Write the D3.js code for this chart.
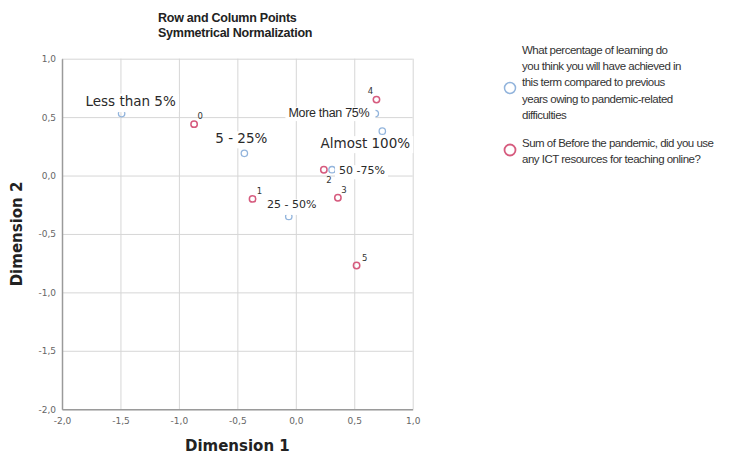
<!DOCTYPE html>
<html>
<head>
<meta charset="utf-8">
<script src="https://cdn.jsdelivr.net/npm/d3@7"></script>
<style>
  html, body { margin: 0; padding: 0; background: #fff; }
  svg { display: block; }
</style>
</head>
<body>
<svg id="chart" width="742" height="456"></svg>
<script>
// Row points: learning achieved this term
const rowCategories = ["Less than 5%", "5 - 25%", "25 - 50%", "50 -75%", "More than 75%", "Almost 100%"];
const rowDim1 = [-1.49, -0.44, -0.06, 0.31, 0.68, 0.74];
const rowDim2 = [0.53, 0.19, -0.35, 0.05, 0.53, 0.38];

// Column points: ICT resources used before the pandemic
const colCategories = ["0", "1", "2", "3", "4", "5"];
const colDim1 = [-0.87, -0.37, 0.24, 0.36, 0.69, 0.52];
const colDim2 = [0.44, -0.20, 0.05, -0.19, 0.65, -0.77];

const axisTicks = [-2.0, -1.5, -1.0, -0.5, 0.0, 0.5, 1.0];

const titleLines = ["Row and Column Points", "Symmetrical Normalization"];
const legendRowText = ["What percentage of learning do", "you think you will have achieved in",
  "this term compared to previous", "years owing to pandemic-related", "difficulties"];
const legendColText = ["Sum of Before the pandemic, did you use", "any ICT resources for teaching online?"];

// label placement for row points (offsets from the point, box padding l/t/r/b)
const rowLabelStyle = [
  { dx: 9, dy: -8, anchor: "middle", size: 13.5, font: "DejaVu Sans", ls: 0, pad: [3, -1, 3, 3.5] },
  { dx: -3, dy: -10, anchor: "middle", size: 13.5, font: "DejaVu Sans", ls: 0, pad: [3, -1, 3, 2] },
  { dx: 3, dy: -8, anchor: "middle", size: 11, font: "DejaVu Sans", ls: 0, pad: [3, -1, 3, 3.5] },
  { dx: 7, dy: 4.5, anchor: "start", size: 11, font: "DejaVu Sans", ls: 0, pad: [4, -1, 3, 2] },
  { dx: -6, dy: 3.5, anchor: "end", size: 12.5, font: "Liberation Sans", ls: -0.3, pad: [3, -1, 6, 1] },
  { dx: -17, dy: 17, anchor: "middle", size: 13.5, font: "DejaVu Sans", ls: 0, pad: [3, -1, 3, 2] }
];
const colLabelOffset = [[6, -5], [7, -5], [5, 13], [6, -5], [-6, -6], [8, -4]];

const BLUE = "#92b4dc";
const RED = "#d65b7e";

const svg = d3.select("#chart");

const x = d3.scaleLinear().domain([-2, 1]).range([62, 412.7]);
const y = d3.scaleLinear().domain([-2, 1]).range([409.2, 58.7]);

const fmt = d3.formatLocale({ decimal: ",", thousands: ".", grouping: [3], currency: ["", ""], minus: "-" }).format(".1f");

// grid
const grid = svg.append("g");
grid.append("g")
  .attr("transform", `translate(0,${y(-2)})`)
  .call(d3.axisBottom(x).tickValues(axisTicks).tickSize(-(y(-2) - y(1))).tickFormat(""))
  .call(g => g.select(".domain").remove())
  .call(g => g.selectAll("line").attr("stroke", "#d6d6d6").attr("stroke-width", 1));
grid.append("g")
  .attr("transform", `translate(${x(-2)},0)`)
  .call(d3.axisLeft(y).tickValues(axisTicks).tickSize(-(x(1) - x(-2))).tickFormat(""))
  .call(g => g.select(".domain").remove())
  .call(g => g.selectAll("line").attr("stroke", "#d6d6d6").attr("stroke-width", 1));

// axes
const xAxis = svg.append("g")
  .attr("transform", `translate(0,${y(-2)})`)
  .call(d3.axisBottom(x).tickValues(axisTicks).tickSize(0).tickPadding(8).tickFormat(fmt));
const yAxis = svg.append("g")
  .attr("transform", `translate(${x(-2)},0)`)
  .call(d3.axisLeft(y).tickValues(axisTicks).tickSize(0).tickPadding(6).tickFormat(fmt));
[xAxis, yAxis].forEach(a => {
  a.select(".domain").attr("stroke", "#9a9a9a").attr("stroke-width", 1.5);
  a.selectAll("text").attr("font-family", "DejaVu Sans").attr("font-size", 9).attr("fill", "#666");
});

// axis titles
svg.append("text")
  .attr("x", (x(-2) + x(1)) / 2).attr("y", 451)
  .attr("text-anchor", "middle")
  .attr("font-family", "DejaVu Sans").attr("font-weight", "bold").attr("font-size", 15)
  .attr("fill", "#222").text("Dimension 1");
svg.append("text")
  .attr("transform", `translate(22,${(y(-2) + y(1)) / 2}) rotate(-90)`)
  .attr("text-anchor", "middle")
  .attr("font-family", "DejaVu Sans").attr("font-weight", "bold").attr("font-size", 15)
  .attr("fill", "#222").text("Dimension 2");

// title
svg.selectAll(".title").data(titleLines).join("text")
  .attr("class", "title")
  .attr("x", 158).attr("y", (d, i) => 22 + i * 15)
  .attr("font-family", "Liberation Sans").attr("font-weight", "bold").attr("font-size", 12.5)
  .attr("letter-spacing", -0.25)
  .attr("fill", "#222").text(d => d);

// points
const rows = rowCategories.map((c, i) => ({ c, d1: rowDim1[i], d2: rowDim2[i], s: rowLabelStyle[i] }));
const cols = colCategories.map((c, i) => ({ c, d1: colDim1[i], d2: colDim2[i], o: colLabelOffset[i] }));

svg.append("g").selectAll("circle").data(rows).join("circle")
  .attr("cx", d => x(d.d1)).attr("cy", d => y(d.d2)).attr("r", 3.2)
  .attr("fill", "none").attr("stroke", BLUE).attr("stroke-width", 1.3);
svg.append("g").selectAll("circle").data(cols).join("circle")
  .attr("cx", d => x(d.d1)).attr("cy", d => y(d.d2)).attr("r", 3.2)
  .attr("fill", "none").attr("stroke", RED).attr("stroke-width", 1.5);

// row labels on white boxes
const rowLabels = svg.append("g").selectAll("g").data(rows).join("g");
rowLabels.each(function (d) {
  const g = d3.select(this);
  const t = g.append("text")
    .attr("x", x(d.d1) + d.s.dx).attr("y", y(d.d2) + d.s.dy)
    .attr("text-anchor", d.s.anchor)
    .attr("font-family", d.s.font).attr("font-size", d.s.size)
    .attr("letter-spacing", d.s.ls)
    .attr("fill", "#2a2a2a").text(d.c);
  const b = t.node().getBBox();
  const [pl, pt, pr, pb] = d.s.pad;
  g.insert("rect", "text")
    .attr("x", b.x - pl).attr("y", b.y - pt)
    .attr("width", b.width + pl + pr).attr("height", b.height + pt + pb)
    .attr("fill", "#fff");
});

// column labels
svg.append("g").selectAll("text").data(cols).join("text")
  .attr("x", d => x(d.d1) + d.o[0]).attr("y", d => y(d.d2) + d.o[1])
  .attr("text-anchor", "middle")
  .attr("font-family", "DejaVu Sans").attr("font-size", 8.5)
  .attr("fill", "#333").text(d => d.c);

// legend
const legend = svg.append("g");
legend.append("circle").attr("cx", 510).attr("cy", 88).attr("r", 5.5)
  .attr("fill", "none").attr("stroke", BLUE).attr("stroke-width", 1.5);
legend.append("circle").attr("cx", 510).attr("cy", 150).attr("r", 5.5)
  .attr("fill", "none").attr("stroke", RED).attr("stroke-width", 1.8);
legend.selectAll(".lr").data(legendRowText).join("text")
  .attr("class", "lr")
  .attr("x", 522).attr("y", (d, i) => 54 + i * 16.2)
  .attr("font-family", "Liberation Sans").attr("font-size", 11.5).attr("letter-spacing", -0.5)
  .attr("fill", "#333").text(d => d);
legend.selectAll(".lc").data(legendColText).join("text")
  .attr("class", "lc")
  .attr("x", 522).attr("y", (d, i) => 147 + i * 16.2)
  .attr("font-family", "Liberation Sans").attr("font-size", 11.5).attr("letter-spacing", -0.5)
  .attr("fill", "#333").text(d => d);
</script>
</body>
</html>
